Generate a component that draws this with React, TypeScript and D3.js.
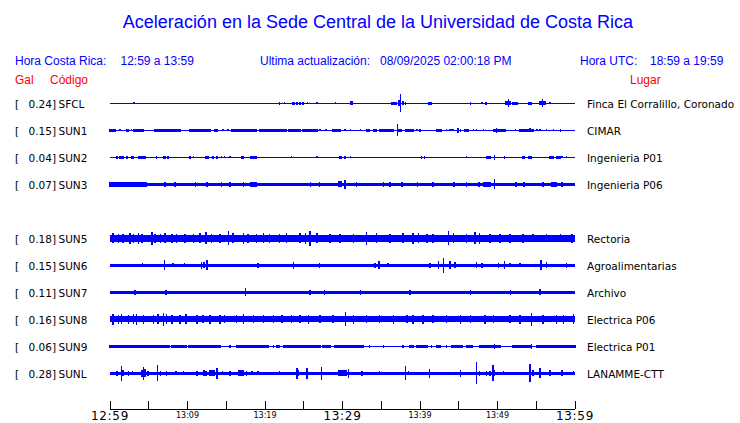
import * as d3 from "d3";
import React from "react";

// header text
const title = "Aceleración en la Sede Central de la Universidad de Costa Rica";
const horaLocal = "12:59 a 13:59";
const horaUtc = "18:59 a 19:59";
const actualizacion = "08/09/2025 02:00:18 PM";

// stations (slot 4 = SUN4, no data)
const codes = ["SFCL", "SUN1", "SUN2", "SUN3", "", "SUN5", "SUN6", "SUN7", "SUN8", "SUN9", "SUNL"];
const gal = ["0.24", "0.15", "0.04", "0.07", "", "0.18", "0.15", "0.11", "0.16", "0.06", "0.28"];
const lugares = [
  "Finca El Corralillo, Coronado", "CIMAR", "Ingenieria P01", "Ingenieria P06", "",
  "Rectoria", "Agroalimentarias", "Archivo", "Electrica P06", "Electrica P01", "LANAMME-CTT",
];
// background noise level of each trace
const noise = [0.5, 0.6, 0.5, 1.7, 0, 3.2, 1.6, 1.5, 3, 0.5, 1.8];

// bursts: [start min, end min, amplitude]
const sfcl = [
  [3.1, 3.1, 1], [21.9, 21.9, 1.5], [22.5, 22.5, 1], [23.6, 23.8, 1.5], [24.1, 24.2, 1.5],
  [24.5, 24.5, 1.5], [24.9, 24.9, 1.5], [25.5, 25.5, 1], [26.7, 26.7, 1], [29.1, 29.1, 1],
  [29.7, 29.7, 0.7], [31.0, 31.2, 2], [35.1, 35.1, 0.7], [36.3, 36.9, 1.5], [37.3, 37.3, 3],
  [37.5, 37.5, 9], [37.8, 37.8, 2], [38.1, 38.1, 1.5], [41.1, 41.4, 1.5], [46.5, 46.5, 1.5],
  [48.0, 48.0, 1], [48.5, 48.5, 1.5], [49.9, 49.9, 0.7], [51.1, 51.7, 2], [51.4, 51.4, 4],
  [52.0, 52.5, 1.5], [54.0, 54.4, 1.5], [55.5, 56.1, 2], [55.8, 55.8, 4], [56.8, 56.8, 1],
  [57.2, 57.2, 0.7],
];
const sun1 = [
  [0.0, 0.65, 1.3], [1.3, 1.3, 1], [2.1, 2.4, 1.2], [2.8, 2.8, 1], [3.0, 4.3, 1.3],
  [5.8, 6.7, 1.3], [6.9, 8.0, 1.3], [8.2, 9.0, 1.3], [10.3, 11.0, 1.5], [11.2, 12.9, 1.3],
  [13.5, 13.8, 1.5], [14.6, 14.6, 1], [15.2, 15.2, 1], [15.7, 16.1, 1.3], [16.3, 18.9, 1.3],
  [19.3, 20.2, 1.3], [20.4, 21.7, 1.3], [21.9, 22.8, 1.2], [23.0, 24.5, 1.5], [24.9, 25.6, 1.3],
  [25.8, 26.7, 1.3], [27.1, 27.1, 1], [27.9, 27.9, 1], [28.8, 29.7, 1.2], [30.3, 30.3, 1],
  [31.0, 31.0, 1], [32.3, 32.3, 1], [33.1, 33.5, 1.2], [34.0, 34.4, 1.3], [34.8, 36.6, 1.3],
  [37.1, 37.1, 6], [37.2, 37.6, 1.5], [38.1, 39.1, 1.2], [39.6, 39.6, 1], [40.0, 40.0, 1.3],
  [42.2, 42.8, 1.3], [43.4, 43.4, 1], [43.9, 44.3, 1], [44.9, 44.9, 2.2], [45.2, 45.2, 1.2],
  [45.8, 46.2, 1.3], [46.9, 46.9, 1], [47.3, 47.3, 1], [48.2, 48.2, 1], [49.5, 51.0, 1.5],
  [49.9, 49.9, 2.2], [52.3, 52.3, 1], [52.9, 54.6, 1.3], [54.2, 54.2, 2], [55.1, 55.1, 1],
  [55.5, 55.5, 1], [56.3, 56.3, 1], [57.2, 57.2, 1], [58.1, 58.1, 1.3],
];
const sun2 = [
  [0.9, 0.9, 1.3], [1.3, 1.7, 1.3], [2.2, 2.2, 1.3], [2.8, 3.0, 1.3], [3.7, 4.5, 1.3],
  [6.0, 6.0, 1.3], [6.9, 7.1, 1.3], [7.5, 7.5, 1.3], [10.3, 10.3, 1.3], [10.8, 10.8, 1],
  [12.4, 12.7, 1.8], [13.3, 13.3, 1.3], [13.8, 13.8, 1.3], [14.4, 14.4, 1], [14.8, 14.8, 1],
  [15.5, 15.5, 1], [17.0, 17.2, 1.8], [18.1, 18.7, 1.5], [18.9, 18.9, 1.3], [23.4, 23.4, 1],
  [26.7, 26.7, 1], [29.6, 29.8, 1.8], [30.3, 30.3, 1.5], [31.0, 31.0, 1], [40.2, 40.2, 1.3],
  [40.6, 40.6, 1.3], [46.0, 46.0, 1], [48.6, 49.0, 1.5], [49.6, 49.6, 2.5], [50.9, 50.9, 1.3],
  [53.2, 53.5, 1.3], [54.0, 54.4, 1.3], [56.8, 57.2, 1.3], [57.6, 58.1, 1.3], [58.3, 58.3, 1],
  [58.9, 58.9, 1],
];
const sun3 = [
  [0.0, 0.5, 2.5], [0.7, 1.0, 2.5], [1.2, 1.5, 2.5], [1.7, 2.1, 2.5], [2.3, 2.6, 2.5],
  [2.8, 3.4, 2.5], [3.6, 4.1, 2.5], [4.3, 4.7, 2.5],
  [7.1, 7.1, 2.7], [8.4, 8.4, 2.5], [11.0, 11.0, 2.7], [12.5, 12.5, 2.7],
  [14.4, 14.4, 2.3], [15.5, 15.5, 2.7], [17.2, 17.2, 2.7], [18.1, 18.9, 2.6], [25.9, 25.9, 2.5],
  [27.0, 27.0, 2.5], [29.5, 29.8, 3], [30.3, 30.3, 4.5], [31.8, 31.8, 2.5], [35.3, 35.3, 2.5],
  [36.1, 36.1, 2.7], [37.7, 37.7, 2.7], [39.7, 39.7, 2.5], [41.7, 41.7, 2.5], [44.4, 44.4, 2.5],
  [46.0, 46.0, 2.7], [47.6, 47.6, 2.5], [48.2, 49.0, 2.6], [49.6, 49.6, 5], [52.4, 52.4, 2.7],
  [53.4, 53.4, 2.7], [55.9, 55.9, 2.5], [57.0, 57.6, 2.8], [58.3, 58.3, 2.5],
];
const sun5 = [
  [0.4, 0.4, 5], [1.1, 1.1, 4.5], [1.7, 1.7, 4.5], [2.6, 2.6, 5.5], [3.0, 3.0, 4.5],
  [3.7, 3.7, 5.5], [4.1, 4.1, 4.5], [5.4, 5.4, 6.5], [5.8, 5.8, 4.5], [6.5, 6.5, 4.5],
  [7.1, 7.1, 5], [8.0, 8.0, 4.5], [8.6, 8.6, 4.5], [9.7, 9.7, 4.5], [10.8, 10.8, 4.5],
  [11.6, 11.6, 5], [12.4, 12.4, 6], [13.1, 13.1, 4.5], [14.2, 14.2, 4.5], [15.3, 15.3, 7],
  [15.9, 15.9, 5], [17.2, 17.2, 5.5], [17.8, 17.8, 4.5], [18.9, 18.9, 4.5], [19.8, 19.8, 5],
  [20.6, 20.6, 4.5], [21.9, 21.9, 4.5], [22.8, 22.8, 5], [24.5, 24.5, 5], [25.2, 25.2, 5.5],
  [25.8, 25.8, 7.5], [26.7, 26.7, 5], [28.4, 28.4, 4.5], [29.7, 29.7, 4.5], [31.4, 31.4, 4.5],
  [33.1, 33.1, 6.5], [34.4, 34.4, 5], [36.1, 36.1, 4.5], [37.8, 37.8, 5], [39.1, 39.1, 5.5],
  [39.8, 39.8, 5], [40.9, 40.9, 4.5], [41.7, 41.7, 4.5], [43.7, 43.7, 7], [44.3, 44.3, 5],
  [46.0, 46.0, 4.5], [47.1, 47.1, 6], [47.7, 47.7, 5.5], [49.0, 49.0, 4.5], [50.3, 50.3, 4.5],
  [51.6, 51.6, 4.5], [53.3, 53.3, 4.5], [54.6, 54.6, 4], [56.3, 56.3, 4], [58.1, 58.1, 4],
  [59.6, 59.6, 4.5],
];
const sun6 = [
  [4.2, 4.2, 2], [7.0, 7.0, 5], [8.1, 8.1, 2], [9.6, 9.6, 2], [11.8, 11.8, 3.5],
  [12.1, 12.1, 3], [12.5, 12.5, 5], [14.4, 14.4, 1.8], [19.1, 19.1, 2.5], [23.7, 23.7, 3.5],
  [27.0, 27.0, 2.2], [28.4, 28.4, 1.8], [32.5, 32.5, 1.8], [34.2, 34.2, 2.5], [34.7, 34.7, 4],
  [35.9, 35.9, 2], [41.3, 41.3, 2.2], [42.4, 42.4, 4], [43.0, 43.0, 7.5], [43.9, 43.9, 4],
  [44.5, 44.5, 3], [47.3, 47.3, 3], [48.0, 48.0, 2.2], [50.1, 50.1, 2.5], [50.9, 50.9, 4],
  [51.6, 51.6, 2], [52.9, 52.9, 2], [55.6, 55.6, 5], [56.3, 56.3, 3], [58.9, 58.9, 2.5],
];
const sun7 = [
  [3.2, 3.2, 2.5], [7.2, 7.2, 2.5], [17.5, 17.5, 4], [25.8, 25.8, 2.5], [27.7, 27.7, 2.5],
  [32.3, 32.3, 2.5], [38.7, 38.7, 2.5], [46.5, 46.5, 2.5], [51.7, 51.7, 2.5], [55.5, 55.5, 3],
];
const sun8 = [
  [0.4, 0.4, 5.5], [1.1, 1.1, 4.5], [1.5, 1.5, 5], [2.4, 2.4, 4.5], [3.0, 3.0, 5],
  [3.4, 3.4, 5.5], [4.3, 4.3, 4.5], [5.6, 5.6, 4.5], [6.2, 6.2, 5], [6.9, 6.9, 6.5],
  [7.3, 7.3, 5], [8.0, 8.0, 4.5], [9.0, 9.0, 4.5], [9.8, 9.8, 5], [11.2, 11.2, 4.5],
  [12.0, 12.0, 4], [12.9, 12.9, 4.5], [14.2, 14.2, 4.5], [14.8, 14.8, 4], [16.3, 16.3, 4],
  [17.2, 17.2, 5], [18.5, 18.5, 4], [19.8, 19.8, 4], [21.1, 21.1, 4], [22.2, 22.2, 4],
  [23.4, 23.4, 4], [24.5, 24.5, 4], [25.6, 25.6, 4.5], [27.1, 27.1, 4], [28.8, 28.8, 4],
  [30.4, 30.4, 7], [31.4, 31.4, 4.5], [33.1, 33.1, 4], [34.8, 34.8, 4], [36.6, 36.6, 4.5],
  [38.3, 38.3, 4], [39.1, 39.1, 4.5], [40.4, 40.4, 4.5], [41.7, 41.7, 4], [43.4, 43.4, 4],
  [45.2, 45.2, 4.5], [46.5, 46.5, 4], [48.4, 48.4, 4.5], [49.5, 49.5, 4], [51.6, 51.6, 4],
  [52.9, 52.9, 4.5], [54.4, 54.4, 6.5], [55.9, 55.9, 4.5], [57.6, 57.6, 4.5], [58.5, 58.5, 4.5],
  [59.8, 59.8, 5],
];
const sun9 = [
  [0.0, 5.6, 1.2], [5.8, 7.7, 1.2], [8.0, 9.9, 1.2], [10.1, 14.2, 1.2], [15.5, 15.5, 1.2],
  [16.3, 20.4, 1.2], [21.1, 21.1, 1.2], [21.5, 21.9, 1.2], [22.4, 27.1, 1.2], [27.5, 28.4, 1.2],
  [29.0, 32.7, 1.2], [33.5, 33.5, 1.2], [35.3, 35.3, 1.2], [37.8, 37.8, 1.2], [38.7, 39.1, 1.2],
  [39.6, 40.9, 1.2], [41.5, 41.5, 1.2], [42.2, 42.6, 1.2], [43.4, 43.4, 1.2], [44.1, 45.4, 1.2],
  [46.0, 46.7, 1.2], [47.7, 50.3, 1.2], [49.6, 49.6, 2.5], [52.0, 54.2, 1.2], [54.4, 54.4, 2.5],
  [55.1, 60, 1.2],
];
const sunl = [
  [0.9, 0.9, 2.5], [1.5, 1.5, 7.5], [1.7, 1.7, 3], [2.4, 2.4, 2.5], [2.9, 2.9, 2],
  [4.1, 4.1, 3.5], [4.3, 4.3, 6.5], [4.5, 4.5, 4], [4.9, 4.9, 2.5], [6.1, 6.1, 8],
  [6.5, 6.5, 2.5], [7.3, 7.3, 2.5], [8.5, 8.5, 2], [9.5, 9.5, 2], [11.2, 11.2, 2.5],
  [12.1, 12.1, 3], [12.4, 12.4, 2.5], [12.9, 13.5, 3], [13.8, 13.8, 5.5], [14.5, 14.5, 2],
  [15.5, 15.5, 2.5], [16.6, 17.2, 3], [17.6, 17.6, 2.5], [18.3, 18.3, 2], [19.1, 19.1, 2],
  [21.9, 21.9, 2], [24.1, 24.1, 5.5], [24.3, 24.3, 3], [25.4, 25.4, 5.5], [27.3, 27.3, 6.5],
  [29.5, 30.5, 3], [30.8, 30.8, 4.5], [32.5, 32.5, 2.5], [34.8, 34.8, 2], [38.1, 38.1, 7],
  [38.5, 38.5, 2], [41.2, 41.2, 4.5], [45.2, 45.2, 3.5], [47.3, 47.3, 11], [47.7, 47.7, 2.5],
  [48.6, 48.6, 2.5], [49.0, 49.0, 2.5], [49.4, 49.4, 8], [49.6, 49.6, 3], [50.8, 50.8, 2],
  [54.2, 54.2, 9], [54.6, 54.6, 3], [55.5, 55.5, 5], [56.8, 56.8, 3], [58.3, 58.3, 3],
  [59.8, 59.8, 2],
];
const bursts = [sfcl, sun1, sun2, sun3, [], sun5, sun6, sun7, sun8, sun9, sunl];

// time axis (minutes after 12:59)
const start = new Date(2025, 7, 9, 12, 59);
const tickMinutes = d3.range(0, 61, 5);
const labelMinutes = d3.range(0, 61, 10);
const bigLabels = [0, 30, 60];

const BLUE = "#0000ff";
const SANS = "'Liberation Sans', Arial, sans-serif";
const DEJA = "'DejaVu Sans', sans-serif";

export default function App() {
  const width = 740;
  const height = 423;
  const x = d3.scaleLinear().domain([0, 60]).range([110, 575]);
  const row = d3.scalePoint<number>().domain(d3.range(codes.length)).range([103.3, 373.3]);
  const amp = d3.scaleLinear().domain([-1, 1]).range([1, -1]);
  const axisY = 409;
  const fmt = d3.timeFormat("%H:%M");
  const label = (m: number) => fmt(d3.timeMinute.offset(start, m));

  return (
    <svg width={width} height={height} style={{ position: "absolute", left: 0, top: 0, background: "#fff" }}>
      <text x={378} y={28} textAnchor="middle" fill={BLUE} fontFamily={SANS} fontSize={18}>{title}</text>

      <g fill={BLUE} fontFamily={SANS} fontSize={12}>
        <text x={15} y={65}>Hora Costa Rica:</text>
        <text x={120.5} y={65}>{horaLocal}</text>
        <text x={260} y={65}>Ultima actualización:</text>
        <text x={380} y={65}>{actualizacion}</text>
        <text x={580} y={65}>Hora UTC:</text>
        <text x={650} y={65}>{horaUtc}</text>
      </g>
      <g fill="#ff0000" fontFamily={SANS} fontSize={12}>
        <text x={15} y={84}>Gal</text>
        <text x={50} y={84}>Código</text>
        <text x={630} y={84}>Lugar</text>
      </g>

      {codes.map((c, i) => {
        if (!c) return null;
        const y = row(i)!;
        return (
          <g key={c}>
            <g fill="#000" fontFamily={DEJA} fontSize={10.5}>
              <text x={15} y={y + 4.3}>[</text>
              <text x={56} y={y + 4.3} textAnchor="end">{gal[i]}]</text>
              <text x={58.5} y={y + 4.3}>{c}</text>
              <text x={587} y={y + 4.3}>{lugares[i]}</text>
            </g>
            <g fill={BLUE} shapeRendering="crispEdges">
              <rect x={x(0)} width={x(60) - x(0)} y={y + amp(noise[i])} height={Math.max(1, 2 * noise[i])} />
              {bursts[i].map((b, j) => {
                const x0 = x(b[0]) - 0.75;
                const w = Math.max(x(b[1]) - x(b[0]), 0) + 1.5;
                return <rect key={j} x={x0} width={w} y={y + amp(b[2])} height={2 * b[2]} />;
              })}
            </g>
          </g>
        );
      })}

      <g stroke="#000" shapeRendering="crispEdges">
        <line x1={x(0)} x2={x(60)} y1={axisY} y2={axisY} />
        {tickMinutes.map((m) => (
          <line key={m} x1={x(m)} x2={x(m)} y1={axisY - 8} y2={axisY} />
        ))}
      </g>
      <g fill="#000" fontFamily={DEJA} textAnchor="middle">
        {labelMinutes.map((m) =>
          bigLabels.includes(m) ? (
            <text key={m} x={x(m)} y={420} fontSize={12} letterSpacing={0.7}>{label(m)}</text>
          ) : (
            <text key={m} x={x(m)} y={418} fontSize={8}>{label(m)}</text>
          )
        )}
      </g>
    </svg>
  );
}
